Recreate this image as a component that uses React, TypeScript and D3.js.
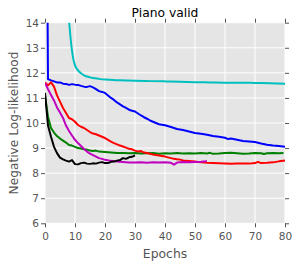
import React, { useEffect, useRef } from 'react';
import * as d3 from 'd3';

// epochs and negative log-likelihood for each run
const blueEpochs = [0, 1, 2, 3, 4, 5, 6, 7, 8, 9, 10, 11, 12, 13, 14, 15, 16, 17, 18, 19, 20, 21, 22, 23, 24, 25, 26, 27, 28, 29, 30, 31, 32, 33, 34, 35, 36, 37, 38, 39, 40, 42, 44, 46, 48, 50, 52, 54, 56, 58, 60, 61, 62, 64, 66, 68, 70, 72, 74, 76, 78, 80];
const blueVals = [30, 11.75, 11.7, 11.66, 11.62, 11.62, 11.57, 11.56, 11.52, 11.55, 11.53, 11.52, 11.48, 11.45, 11.44, 11.47, 11.42, 11.35, 11.27, 11.24, 11.2, 11.1, 11.0, 10.92, 10.82, 10.74, 10.66, 10.6, 10.53, 10.49, 10.46, 10.38, 10.3, 10.23, 10.17, 10.1, 10.05, 10.0, 9.95, 9.93, 9.91, 9.84, 9.76, 9.72, 9.66, 9.6, 9.57, 9.53, 9.48, 9.45, 9.41, 9.36, 9.38, 9.33, 9.28, 9.26, 9.24, 9.18, 9.13, 9.1, 9.08, 9.05];

const cyanEpochs = [8, 8.6, 9.3, 10, 11, 12, 13, 15, 18, 20, 25, 30, 35, 40, 45, 50, 55, 60, 65, 70, 75, 80];
const cyanVals = [14.1, 13.3, 12.64, 12.3, 12.1, 11.98, 11.9, 11.82, 11.76, 11.73, 11.7, 11.68, 11.67, 11.66, 11.65, 11.63, 11.62, 11.61, 11.61, 11.6, 11.59, 11.57];

const redEpochs = [0, 1, 2, 3, 4, 5, 6, 7, 8, 9, 10, 11, 12, 13, 14, 15, 16, 17, 18, 19, 20, 21, 22, 23, 24, 25, 26, 27, 28, 29, 30, 31, 32, 33, 34, 35, 36, 37, 38, 39, 40, 41, 42, 43, 44, 45, 46, 47, 48, 50, 52, 54, 56, 58, 60, 62, 64, 66, 68, 70, 71, 72, 74, 76, 78, 80];
const redVals = [11.62, 11.5, 11.62, 11.45, 11.1, 10.85, 10.6, 10.4, 10.2, 10.15, 10.05, 9.92, 9.85, 9.8, 9.72, 9.64, 9.58, 9.55, 9.5, 9.45, 9.4, 9.33, 9.26, 9.2, 9.15, 9.1, 9.06, 9.02, 8.97, 8.95, 8.9, 8.86, 8.88, 8.82, 8.8, 8.77, 8.74, 8.72, 8.7, 8.68, 8.66, 8.63, 8.6, 8.57, 8.55, 8.54, 8.51, 8.49, 8.48, 8.46, 8.43, 8.41, 8.4, 8.39, 8.38, 8.37, 8.38, 8.38, 8.38, 8.4, 8.45, 8.4, 8.41, 8.43, 8.47, 8.5];

const magentaEpochs = [0, 1, 2, 3, 4, 5, 6, 7, 8, 9, 10, 11, 12, 13, 14, 15, 16, 17, 18, 19, 20, 22, 24, 26, 28, 30, 32, 34, 36, 38, 40, 42, 43, 44, 46, 48, 50, 52, 54];
const magentaVals = [11.6, 11.35, 11.12, 10.9, 10.62, 10.42, 10.2, 9.9, 9.68, 9.5, 9.33, 9.2, 9.08, 8.96, 8.86, 8.78, 8.72, 8.66, 8.6, 8.57, 8.53, 8.49, 8.46, 8.44, 8.42, 8.42, 8.43, 8.41, 8.43, 8.42, 8.43, 8.41, 8.34, 8.42, 8.44, 8.43, 8.44, 8.45, 8.47];

const greenEpochs = [0, 1, 2, 3, 4, 5, 6, 7, 8, 9, 10, 11, 12, 13, 14, 15, 16, 17, 18, 19, 20, 22, 24, 26, 28, 30, 32, 34, 36, 38, 40, 42, 44, 46, 48, 50, 52, 54, 55, 56, 58, 60, 62, 64, 66, 68, 70, 72, 73, 74, 76, 78, 79.5];
const greenVals = [11.1, 10.25, 9.8, 9.62, 9.48, 9.38, 9.3, 9.22, 9.12, 9.1, 9.05, 9.0, 8.98, 8.95, 8.94, 8.9, 8.88, 8.9, 8.86, 8.85, 8.84, 8.82, 8.8, 8.8, 8.79, 8.8, 8.78, 8.79, 8.8, 8.77, 8.79, 8.78, 8.8, 8.78, 8.79, 8.78, 8.8, 8.78, 8.81, 8.77, 8.78, 8.8, 8.81, 8.79, 8.77, 8.78, 8.8, 8.79, 8.76, 8.79, 8.8, 8.79, 8.8];

const blackEpochs = [0, 1, 2, 3, 4, 5, 6, 7, 8, 9, 10, 11, 12, 13, 14, 15, 16, 17, 18, 19, 20, 21, 22, 23, 24, 25, 26, 27, 28, 29, 30];
const blackVals = [11.2, 9.9, 9.45, 9.05, 8.8, 8.62, 8.55, 8.5, 8.46, 8.52, 8.36, 8.35, 8.4, 8.42, 8.38, 8.37, 8.39, 8.38, 8.42, 8.44, 8.4, 8.4, 8.45, 8.46, 8.5, 8.52, 8.6, 8.57, 8.63, 8.65, 8.71];

const xTicks = [0, 10, 20, 30, 40, 50, 60, 70, 80];
const yTicks = [6, 7, 8, 9, 10, 11, 12, 13, 14];

const series = [
  { x: cyanEpochs, y: cyanVals, color: '#00bfbf', smooth: true },
  { x: blueEpochs, y: blueVals, color: '#0000ff', smooth: false },
  { x: greenEpochs, y: greenVals, color: '#008000', smooth: false },
  { x: redEpochs, y: redVals, color: '#ff0000', smooth: false },
  { x: magentaEpochs, y: magentaVals, color: '#bf00bf', smooth: false },
  { x: blackEpochs, y: blackVals, color: '#000000', smooth: false },
];

const App: React.FC = () => {
  const ref = useRef<SVGSVGElement>(null);

  useEffect(() => {
    if (!ref.current) return;
    document.body.style.margin = '0';

    const width = 299;
    const height = 267;
    const left = 45, right = 285, top = 22.7, bottom = 223.3;
    const font = 'DejaVu Sans, sans-serif';

    const svg = d3.select(ref.current);
    svg.selectAll('*').remove();

    const x = d3.scaleLinear().domain([0, 80]).range([left, right]);
    const y = d3.scaleLinear().domain([6, 14]).range([bottom, top]);

    // ggplot-ish grey panel
    svg.append('rect')
      .attr('x', left).attr('y', top)
      .attr('width', right - left).attr('height', bottom - top)
      .attr('fill', '#e5e5e5');

    // grid
    svg.append('g').selectAll('line').data(xTicks).enter().append('line')
      .attr('x1', d => x(d)).attr('x2', d => x(d))
      .attr('y1', top).attr('y2', bottom)
      .attr('stroke', '#fff').attr('stroke-width', 1);
    svg.append('g').selectAll('line').data(yTicks).enter().append('line')
      .attr('y1', d => y(d)).attr('y2', d => y(d))
      .attr('x1', left).attr('x2', right)
      .attr('stroke', '#fff').attr('stroke-width', 1);

    svg.append('clipPath').attr('id', 'plotclip')
      .append('rect')
      .attr('x', left).attr('y', top)
      .attr('width', right - left).attr('height', bottom - top);

    const lines = svg.append('g').attr('clip-path', 'url(#plotclip)');
    series.forEach(s => {
      const pts = s.x.map((e, i) => [e, s.y[i]] as [number, number]);
      const line = d3.line<[number, number]>()
        .x(d => x(d[0]))
        .y(d => y(d[1]))
        .curve(s.smooth ? d3.curveMonotoneX : d3.curveLinear);
      lines.append('path')
        .attr('d', line(pts) as string)
        .attr('fill', 'none')
        .attr('stroke', s.color)
        .attr('stroke-width', 2)
        .attr('stroke-linejoin', 'round');
    });

    // axes, ticks outside on all four sides
    const styleAxis = (g: d3.Selection<SVGGElement, unknown, null, undefined>) => {
      g.select('.domain').remove();
      g.selectAll('.tick line').attr('stroke', '#555');
      g.selectAll('.tick text')
        .attr('fill', '#555')
        .attr('font-family', font)
        .attr('font-size', '10.5px');
    };

    svg.append('g')
      .attr('transform', `translate(${left},0)`)
      .call(d3.axisLeft(y).tickValues(yTicks).tickSize(4).tickPadding(2).tickFormat(d3.format('d')))
      .call(styleAxis);
    svg.append('g')
      .attr('transform', `translate(0,${bottom})`)
      .call(d3.axisBottom(x).tickValues(xTicks).tickSize(4).tickPadding(5).tickFormat(d3.format('d')))
      .call(styleAxis);
    svg.append('g')
      .attr('transform', `translate(${right},0)`)
      .call(d3.axisRight(y).tickValues(yTicks).tickSize(4).tickFormat(() => ''))
      .call(styleAxis);
    svg.append('g')
      .attr('transform', `translate(0,${top})`)
      .call(d3.axisTop(x).tickValues(xTicks).tickSize(4).tickFormat(() => ''))
      .call(styleAxis);

    // title and labels
    svg.append('text')
      .attr('x', (left + right) / 2).attr('y', 17)
      .attr('text-anchor', 'middle')
      .attr('font-family', font).attr('font-size', '12.3px')
      .attr('fill', '#000')
      .text('Piano valid');

    svg.append('text')
      .attr('x', (left + right) / 2).attr('y', 257.5)
      .attr('text-anchor', 'middle')
      .attr('font-family', font).attr('font-size', '12.4px')
      .attr('fill', '#555')
      .text('Epochs');

    svg.append('text')
      .attr('transform', `translate(17.5,${(top + bottom) / 2}) rotate(-90)`)
      .attr('text-anchor', 'middle')
      .attr('font-family', font).attr('font-size', '12.2px')
      .attr('fill', '#555')
      .text('Negative Log-likelihood');

    svg.attr('width', width).attr('height', height);
  }, []);

  return <svg ref={ref} width={299} height={267} style={{ display: 'block' }} />;
};

export default App;
